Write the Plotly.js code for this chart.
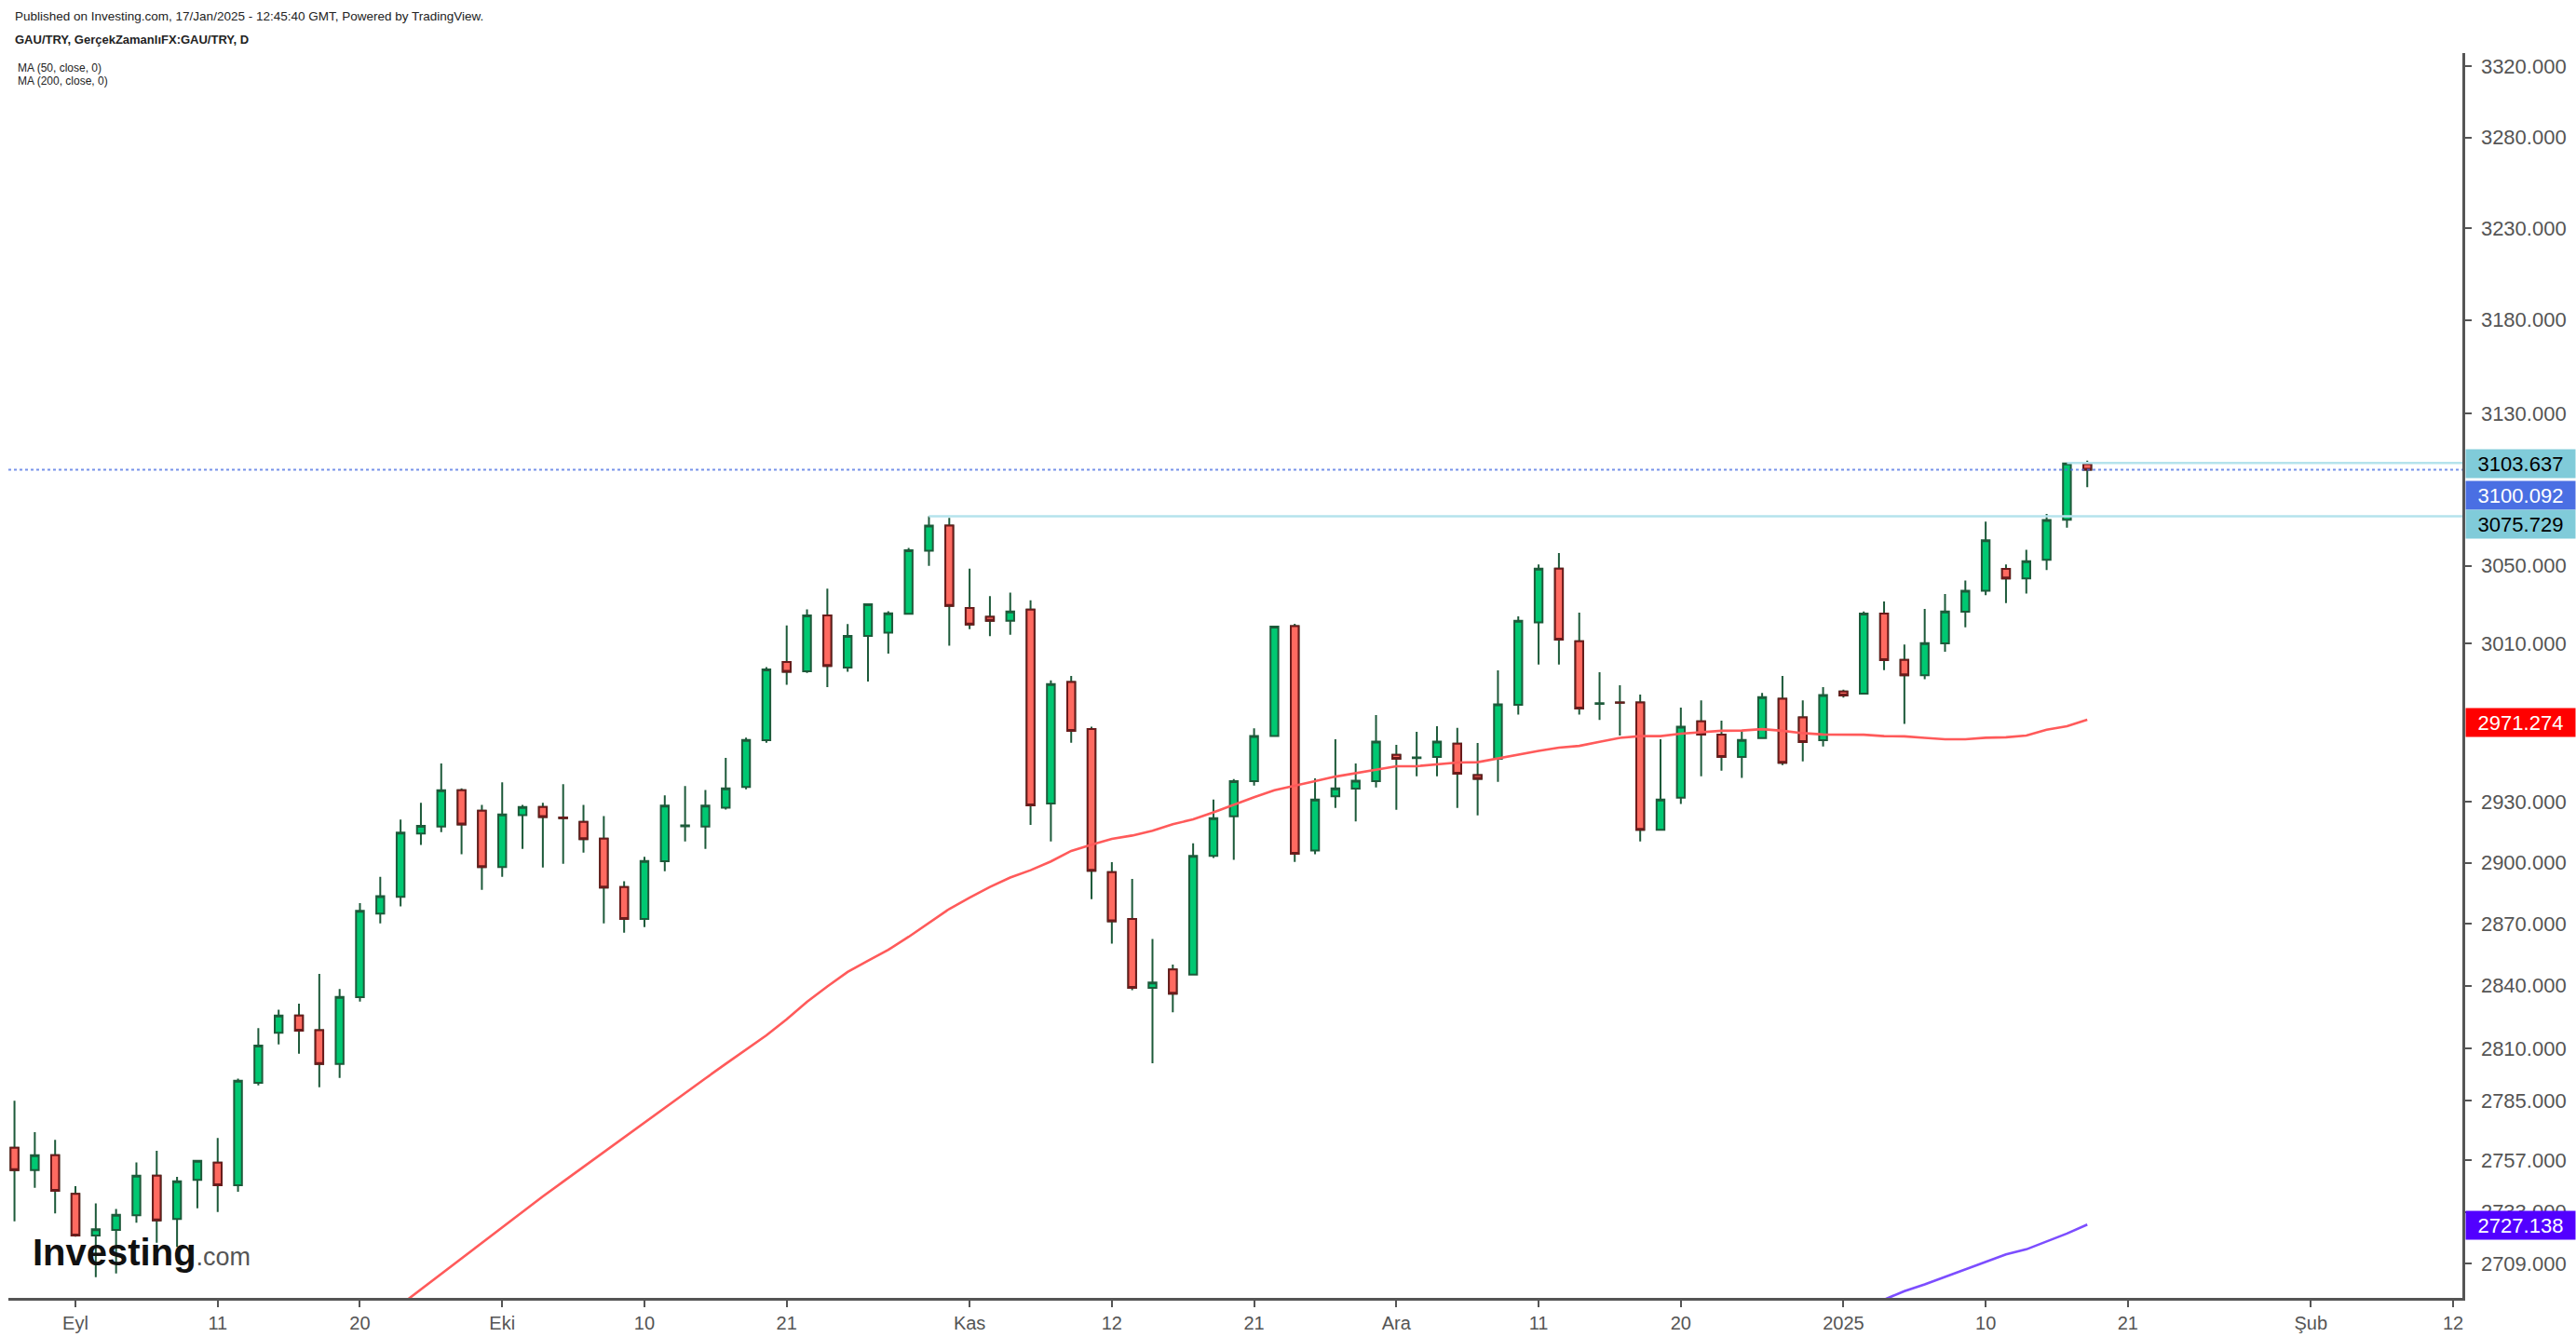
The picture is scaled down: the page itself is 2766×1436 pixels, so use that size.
<!DOCTYPE html>
<html>
<head>
<meta charset="utf-8">
<script src="https://cdn.plot.ly/plotly-3.0.1.min.js"></script>
<style>
html,body{margin:0;padding:0;background:#ffffff;}
#chart{width:2766px;height:1436px;}
</style>
</head>
<body>
<div id="chart"></div>
<script>
// ---- data (GAU/TRY daily) ----
const dates = [
 '2024-08-28','2024-08-29','2024-08-30',
 '2024-09-02','2024-09-03','2024-09-04','2024-09-05','2024-09-06',
 '2024-09-09','2024-09-10','2024-09-11','2024-09-12','2024-09-13',
 '2024-09-16','2024-09-17','2024-09-18','2024-09-19','2024-09-20',
 '2024-09-23','2024-09-24','2024-09-25','2024-09-26','2024-09-27',
 '2024-09-30','2024-10-01','2024-10-02','2024-10-03','2024-10-04',
 '2024-10-07','2024-10-08','2024-10-09','2024-10-10','2024-10-11',
 '2024-10-14','2024-10-15','2024-10-16','2024-10-17','2024-10-18',
 '2024-10-21','2024-10-22','2024-10-23','2024-10-24','2024-10-25',
 '2024-10-28','2024-10-29','2024-10-30','2024-10-31','2024-11-01',
 '2024-11-04','2024-11-05','2024-11-06','2024-11-07','2024-11-08',
 '2024-11-11','2024-11-12','2024-11-13','2024-11-14','2024-11-15',
 '2024-11-18','2024-11-19','2024-11-20','2024-11-21','2024-11-22',
 '2024-11-25','2024-11-26','2024-11-27','2024-11-28','2024-11-29',
 '2024-12-02','2024-12-03','2024-12-04','2024-12-05','2024-12-06',
 '2024-12-09','2024-12-10','2024-12-11','2024-12-12','2024-12-13',
 '2024-12-16','2024-12-17','2024-12-18','2024-12-19','2024-12-20',
 '2024-12-23','2024-12-24','2024-12-25','2024-12-26','2024-12-27',
 '2024-12-30','2024-12-31','2025-01-01','2025-01-02','2025-01-03',
 '2025-01-06','2025-01-07','2025-01-08','2025-01-09','2025-01-10',
 '2025-01-13','2025-01-14','2025-01-15','2025-01-16','2025-01-17'
];
const openP = [
 2763.0,2752.5,2759.5,
 2741.4,2722.1,2724.7,2731.5,2749.9,
 2729.7,2747.9,2756.0,2745.4,2793.6,
 2817.4,2825.7,2818.7,2802.5,2834.5,
 2875.0,2883.2,2914.4,2917.9,2935.9,
 2925.7,2897.9,2923.5,2927.5,2922.4,
 2920.1,2911.9,2888.0,2872.4,2900.7,
 2918.0,2917.9,2927.2,2937.5,2960.9,
 3000.5,2995.8,3024.4,2997.7,3013.8,
 3015.5,3025.2,3057.8,3070.8,3028.2,
 3023.6,3021.6,3027.3,2929.3,2990.3,
 2966.6,2895.3,2872.4,2839.0,2847.9,
 2845.4,2903.3,2922.9,2940.4,2963.0,
 3018.8,2906.0,2932.9,2936.7,2940.4,
 2953.6,2952.0,2952.5,2959.2,2943.4,
 2951.6,2978.8,3020.8,3048.5,3011.1,
 2979.3,2980.0,2980.0,2916.2,2932.2,
 2970.5,2963.8,2952.5,2962.0,2981.8,
 2972.4,2960.9,2985.5,2984.5,3025.3,
 3001.6,2993.8,3010.0,3026.3,3037.0,
 3048.3,3043.4,3053.1,3073.9,3103.0
];
const highP = [
 2785.1,2770.3,2766.7,
 2745.0,2737.0,2734.4,2756.1,2761.5,
 2749.3,2756.8,2767.5,2795.6,2819.7,
 2828.5,2831.4,2845.7,2838.4,2880.1,
 2893.0,2921.3,2929.6,2949.3,2936.8,
 2928.6,2939.8,2928.6,2929.6,2938.9,
 2928.6,2923.0,2890.9,2902.9,2933.3,
 2938.0,2936.0,2952.1,2962.2,2997.9,
 3019.2,3027.5,3038.1,3019.9,3030.3,
 3026.5,3059.2,3075.729,3074.8,3048.5,
 3034.3,3036.1,3032.1,2991.2,2993.4,
 2967.7,2900.2,2892.0,2862.7,2850.2,
 2909.5,2931.3,2941.5,2966.9,3018.8,
 3020.0,2941.8,2961.4,2949.3,2973.6,
 2958.6,2965.2,2968.0,2967.1,2959.5,
 2996.3,3023.9,3050.7,3056.5,3025.8,
 2995.3,2988.7,2984.0,2961.4,2977.4,
 2981.0,2970.8,2965.2,2984.8,2993.4,
 2981.0,2987.8,2986.5,3026.4,3031.5,
 3009.5,3027.7,3035.4,3042.3,3072.9,
 3050.7,3058.2,3076.9,3103.637,3104.9
];
const lowP = [
 2728.7,2744.2,2732.3,
 2721.5,2702.9,2704.6,2728.0,2718.7,
 2716.8,2734.7,2733.0,2742.4,2792.4,
 2811.9,2807.4,2791.5,2795.9,2832.4,
 2870.3,2878.6,2908.8,2915.1,2904.2,
 2886.6,2893.0,2906.8,2897.6,2899.4,
 2905.0,2870.3,2865.7,2868.5,2895.8,
 2910.5,2906.8,2926.3,2936.4,2959.7,
 2988.9,2995.0,2987.8,2995.5,2990.6,
 3004.8,3025.0,3049.9,3008.9,3017.3,
 3013.7,3014.4,2918.7,2910.5,2959.7,
 2882.1,2860.4,2837.9,2802.9,2827.3,
 2845.0,2902.3,2901.4,2938.2,2962.8,
 2900.4,2904.1,2927.1,2920.4,2937.3,
 2926.2,2942.9,2942.9,2927.1,2923.4,
 2940.1,2973.8,2999.2,2999.2,2973.8,
 2971.1,2963.3,2910.5,2916.0,2929.0,
 2942.9,2945.7,2942.0,2961.9,2948.5,
 2950.3,2957.8,2982.4,2984.3,2996.4,
 2969.1,2991.8,3005.8,3018.3,3034.8,
 3030.7,3035.6,3047.8,3069.8,3090.9
];
const closeP = [
 2752.5,2759.5,2742.8,
 2722.1,2725.0,2731.7,2749.9,2729.1,
 2747.3,2756.8,2745.4,2794.6,2811.3,
 2825.7,2818.4,2802.5,2834.6,2876.4,
 2883.6,2914.9,2918.2,2935.9,2918.9,
 2897.9,2923.8,2927.5,2922.6,2922.0,
 2911.6,2887.8,2872.4,2900.8,2928.3,
 2918.4,2928.3,2936.8,2961.1,2996.8,
 2995.6,3024.4,2998.5,3013.8,3030.1,
 3025.4,3058.0,3070.8,3029.2,3019.7,
 3021.6,3026.4,2928.4,2989.3,2965.6,
 2896.0,2871.3,2839.0,2841.6,2836.2,
 2903.3,2922.0,2940.4,2963.0,3018.6,
 2904.4,2931.2,2936.8,2940.6,2960.2,
 2951.6,2952.3,2960.2,2944.2,2941.6,
 2979.0,3021.6,3048.5,3011.9,2976.9,
 2979.6,2979.8,2916.2,2931.2,2967.7,
 2963.8,2952.5,2961.1,2982.7,2949.6,
 2960.0,2983.7,2983.5,3025.3,3001.5,
 2993.8,3010.1,3026.4,3037.1,3063.2,
 3043.4,3052.3,3073.7,3103.4,3100.092
];
// MA(50) from 2024-09-24, MA(200) from 2025-01-02
const ma50Dates = dates.slice(19);
const ma50 = [
 2690.2,2697.3,2704.5,2711.6,2718.8,2726.0,2733.2,2740.2,2747.1,2754.0,
 2761.0,2767.9,2774.9,2782.0,2788.9,2795.7,2802.6,2809.4,2816.2,2823.9,
 2832.3,2839.7,2846.7,2852.1,2857.4,2863.7,2870.7,2877.3,2882.8,2888.1,
 2892.7,2896.3,2900.6,2905.8,2908.9,2911.7,2913.4,2915.8,2919.0,2921.4,
 2924.9,2928.7,2932.4,2935.9,2938.0,2940.4,2942.7,2944.5,2946.2,2947.9,
 2947.9,2948.8,2949.7,2949.9,2951.8,2953.8,2955.6,2957.2,2958.1,2960.1,
 2962.1,2963.0,2963.0,2964.2,2965.1,2965.7,2965.8,2966.5,2965.7,2964.5,
 2963.8,2963.8,2963.7,2963.0,2962.9,2962.1,2961.4,2961.4,2962.2,2962.4,
 2963.3,2966.2,2968.0,2971.274
];
const ma200Dates = dates.slice(91);
const ma200 = [2688.7,2692.5,2696.5,2699.6,2703.1,2706.6,2710.1,2713.4,2715.7,2719.4,2723.0,2727.138];

// drawn horizontal levels
const levelHigh = 3103.637, levelHighFrom = '2025-01-16';
const levelPeak = 3075.729, levelPeakFrom = '2024-10-30';
const lastPrice = 3100.092;

// axis ticks
const xTickVals = ['2024-09-02','2024-09-11','2024-09-20','2024-10-01','2024-10-10','2024-10-21',
 '2024-11-01','2024-11-12','2024-11-21','2024-12-02','2024-12-11','2024-12-20',
 '2025-01-01','2025-01-10','2025-01-21','2025-02-03','2025-02-12'];
const xTickText = ['Eyl','11','20','Eki','10','21','Kas','12','21','Ara','11','20','2025','10','21','Şub','12'];
const yTickVals = [2709,2733,2757,2785,2810,2840,2870,2900,2930,3010,3050,3130,3180,3230,3280,3320];
const yTickText = ['2709.000','2733.000','2757.000','2785.000','2810.000','2840.000','2870.000','2900.000','2930.000',
 '3010.000','3050.000','3130.000','3180.000','3230.000','3280.000','3320.000'];

// ---- layout geometry ----
const W = 2766, H = 1436;
const M = {l: 9, r: 122, t: 57, b: 42};
const PW = W - M.l - M.r, PH = H - M.t - M.b;
const px = x => (x - M.l) / PW;
const py = y => (PH + M.t - y) / PH;
const xStart = '2024-08-27 16:48', xEnd = '2025-02-12 11:00';
const yMin = 2693.4, yMax = 3327.4;

const FONT = '"Liberation Sans", Arial, sans-serif';
const WICK = '#1d5a3a';
const RED_EDGE = '#6a1b1b';
const GREEN_FILL = '#00c872';
const RED_FILL = '#ff6a60';

// decreasing-body overlay (dark red outline, no wick)
const dn = dates.map((d, i) => i).filter(i => closeP[i] < openP[i]);

const traces = [
 {type:'scatter', mode:'lines', x:[levelPeakFrom, xEnd], y:[levelPeak, levelPeak],
  line:{color:'#b5e3ec', width:2.5}, hoverinfo:'skip'},
 {type:'scatter', mode:'lines', x:[levelHighFrom, xEnd], y:[levelHigh, levelHigh],
  line:{color:'#b5e3ec', width:2.5}, hoverinfo:'skip'},
 {type:'scatter', mode:'lines', x:[xStart, xEnd], y:[lastPrice, lastPrice],
  line:{color:'rgba(74,111,227,0.75)', width:2, dash:'dot'}, hoverinfo:'skip'},
 {type:'scatter', mode:'lines', x:ma50Dates, y:ma50,
  line:{color:'#ff5a5a', width:2.6}, hoverinfo:'skip'},
 {type:'scatter', mode:'lines', x:ma200Dates, y:ma200,
  line:{color:'#7c4dff', width:2.6}, hoverinfo:'skip'},
 {type:'candlestick', x:dates, open:openP, high:highP, low:lowP, close:closeP,
  increasing:{line:{color:WICK, width:2}, fillcolor:GREEN_FILL},
  decreasing:{line:{color:WICK, width:2}, fillcolor:RED_FILL},
  whiskerwidth:0, hoverinfo:'skip'},
 {type:'candlestick', x:dn.map(i => dates[i]), open:dn.map(i => openP[i]), high:dn.map(i => openP[i]),
  low:dn.map(i => closeP[i]), close:dn.map(i => closeP[i]),
  increasing:{line:{color:RED_EDGE, width:2}, fillcolor:RED_FILL},
  decreasing:{line:{color:RED_EDGE, width:2}, fillcolor:RED_FILL},
  whiskerwidth:0, hoverinfo:'skip'}
];

function priceBox(val, text, bg, fg, shift) {
  return {xref:'paper', x:1, xanchor:'left', xshift:3, yref:'y', y:Math.log10(val), yanchor:'middle', yshift:shift,
    text:text, showarrow:false, bgcolor:bg, width:113, height:26, borderpad:2, align:'center',
    font:{family:FONT, size:22, color:fg}};
}

const annotations = [
 {xref:'paper', yref:'paper', x:px(14), y:py(17), xanchor:'left', yanchor:'middle', showarrow:false,
  text:'Published on Investing.com, 17/Jan/2025 - 12:45:40 GMT, Powered by TradingView.',
  font:{family:FONT, size:13.5, color:'#222'}},
 {xref:'paper', yref:'paper', x:px(14), y:py(42), xanchor:'left', yanchor:'middle', showarrow:false,
  text:'<b>GAU/TRY, GerçekZamanlıFX:GAU/TRY, D</b>',
  font:{family:FONT, size:13, color:'#222'}},
 {xref:'paper', yref:'paper', x:px(17), y:py(73), xanchor:'left', yanchor:'middle', showarrow:false,
  text:'MA (50, close, 0)', font:{family:FONT, size:12, color:'#222'}},
 {xref:'paper', yref:'paper', x:px(17), y:py(87), xanchor:'left', yanchor:'middle', showarrow:false,
  text:'MA (200, close, 0)', font:{family:FONT, size:12, color:'#222'}},
 {xref:'paper', yref:'paper', x:px(33), y:py(1345), xanchor:'left', yanchor:'middle', showarrow:false,
  text:'<b>Investing</b><span style="font-size:27px;color:#555;font-weight:normal">.com</span>',
  font:{family:FONT, size:40, color:'#111'}},
 priceBox(levelHigh, '3103.637', '#80cbd9', '#000000', -1),
 priceBox(lastPrice, '3100.092', '#4a6fe3', '#ffffff', -27),
 priceBox(levelPeak, '3075.729', '#80cbd9', '#000000', -9),
 priceBox(ma50[ma50.length-1], '2971.274', '#ff0000', '#ffffff', -3),
 priceBox(ma200[ma200.length-1], '2727.138', '#5200ff', '#ffffff', -1)
];

const layout = {
  width: W, height: H,
  margin: M,
  paper_bgcolor: '#ffffff', plot_bgcolor: '#ffffff',
  showlegend: false,
  boxgap: 0.45,
  font: {family: FONT, color: '#555'},
  xaxis: {
    type: 'date', range: [xStart, xEnd],
    rangebreaks: [{bounds: ['sat', 'mon']}],
    rangeslider: {visible: false},
    showgrid: false, zeroline: false,
    showline: true, linecolor: '#555', linewidth: 2.5,
    ticks: 'outside', ticklen: 7, tickwidth: 2, tickcolor: '#555',
    tickmode: 'array', tickvals: xTickVals, ticktext: xTickText,
    tickfont: {family: FONT, size: 20, color: '#555'},
    fixedrange: true
  },
  yaxis: {
    type: 'log', side: 'right', range: [Math.log10(yMin), Math.log10(yMax)],
    showgrid: false, zeroline: false,
    showline: true, linecolor: '#555', linewidth: 2.5,
    ticks: 'outside', ticklen: 7, tickwidth: 2, tickcolor: '#555',
    tickmode: 'array', tickvals: yTickVals, ticktext: yTickText,
    tickfont: {family: FONT, size: 22, color: '#555'},
    ticklabelstandoff: 6,
    fixedrange: true
  },
  annotations: annotations
};

Plotly.newPlot('chart', traces, layout, {displayModeBar: false, staticPlot: true});
</script>
</body>
</html>
